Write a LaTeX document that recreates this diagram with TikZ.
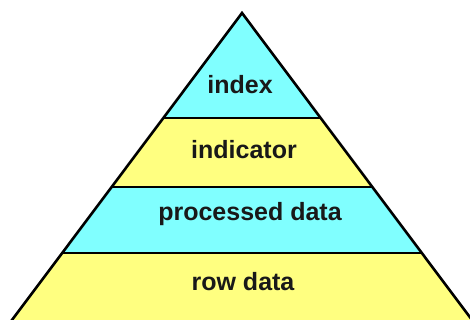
\documentclass[tikz,border=0pt]{standalone}
\usepackage{fontspec}
\setmainfont{Liberation Sans}
\usetikzlibrary{calc}
\definecolor{PyCyan}{HTML}{80FFFF}
\definecolor{PyYellow}{HTML}{FFFF80}
\tikzset{
  pyedge/.style={draw=black,line width=2.6pt,line join=miter},
  pysplit/.style={draw=black,line width=1.8pt},
  pylabel/.style={font=\fontsize{25}{30}\selectfont\bfseries,text=black!90,inner sep=0pt},
}
\begin{document}
\begin{tikzpicture}[x=1pt,y=1pt]
  \useasboundingbox (0,0) rectangle (470,320);
  \clip (0,0) rectangle (470,320);

  % outline of the pyramid
  \coordinate (apex) at (242,307);
  \coordinate (bl) at ($(apex)!1.1!(12,0)$);
  \coordinate (br) at ($(apex)!1.1!(472,0)$);

  % layer boundaries
  \coordinate (l1) at ($(apex)!0.342!(12,0)$);
  \coordinate (r1) at ($(apex)!0.342!(472,0)$);
  \coordinate (l2) at ($(apex)!0.567!(12,0)$);
  \coordinate (r2) at ($(apex)!0.567!(472,0)$);
  \coordinate (l3) at ($(apex)!0.782!(12,0)$);
  \coordinate (r3) at ($(apex)!0.782!(472,0)$);

  \fill[PyCyan] (apex) -- (l1) -- (r1) -- cycle;
  \fill[PyYellow] (l1) -- (l2) -- (r2) -- (r1) -- cycle;
  \fill[PyCyan] (l2) -- (l3) -- (r3) -- (r2) -- cycle;
  \fill[PyYellow] (l3) -- (bl) -- (br) -- (r3) -- cycle;

  \draw[pysplit] (l1) -- (r1);
  \draw[pysplit] (l2) -- (r2);
  \draw[pysplit] (l3) -- (r3);
  \draw[pyedge] (bl) -- (apex) -- (br);

  \node[pylabel] (index) at (240,235) {index};
  \node[pylabel] (indicator) at (244,170) {indicator};
  \node[pylabel] (processed) at (250,106) {processed data};
  \node[pylabel] (rowdata) at (243,38) {row data};
\end{tikzpicture}
\end{document}
